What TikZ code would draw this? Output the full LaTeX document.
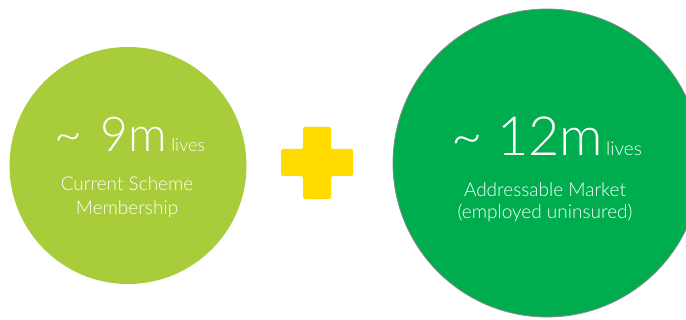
\documentclass[tikz,border=0pt]{standalone}
\usepackage{fontspec}
\setmainfont{Lato}[UprightFont=* Light]
\definecolor{limegreen}{HTML}{A9CD3A}
\definecolor{marketgreen}{HTML}{00AD4E}
\definecolor{plusyellow}{HTML}{FFDB00}
\definecolor{rimgray}{HTML}{8A8A8A}
\begin{document}
\begin{tikzpicture}[x=1pt,y=-1pt,
  disc/.style={circle, inner sep=0pt, outer sep=0pt},
  bignum/.style={anchor=base, text=white, inner sep=0pt},
  caption/.style={anchor=base, text=white, inner sep=0pt, font=\fontsize{19}{22}\selectfont}]
\useasboundingbox (0,0) rectangle (686,320);
\clip (0,0) rectangle (686,320);

% left circle: current members
\node[disc, fill=limegreen, minimum size=237pt] (cur) at (128,165.5) {};
\node[bignum] (curnum) at (130,152)
  {{\fontsize{48}{48}\selectfont\textasciitilde\ \hspace{5pt}9m}\hspace{4pt}{\fontsize{18}{18}\selectfont lives}};
\node[caption] (curl1) at (127,191) {Current Scheme};
\node[caption] (curl2) at (127,215) {Membership};

% plus sign
\fill[plusyellow, rounded corners=2pt]
  (303,127) -- (331,127) -- (331,149) -- (353,149) -- (353,176) -- (331,176)
  -- (331,199) -- (303,199) -- (303,176) -- (281,176) -- (281,149) -- (303,149) -- cycle;

% right circle: addressable market
\node[disc, fill=marketgreen, draw=rimgray, line width=0.8pt, minimum size=308pt] (mkt) at (547,163) {};
\node[bignum] (mktnum) at (546.5,156)
  {{\fontsize{54}{54}\selectfont\textasciitilde\ 12m}\hspace{3pt}{\fontsize{19}{19}\selectfont lives}};
\node[caption] (mktl1) at (545,197) {Addressable Market};
\node[caption] (mktl2) at (545,219) {(employed uninsured)};
\end{tikzpicture}
\end{document}
